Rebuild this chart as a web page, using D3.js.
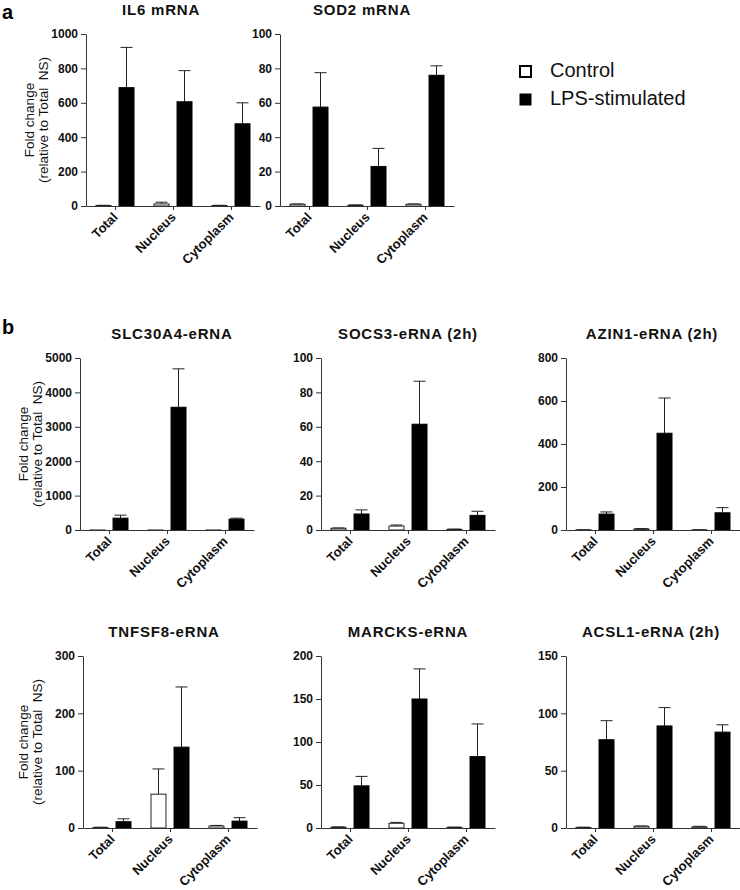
<!DOCTYPE html>
<html>
<head>
<meta charset="utf-8">
<script src="https://cdn.jsdelivr.net/npm/d3@7"></script>
<style>
  html, body { margin: 0; padding: 0; background: #fff; }
  svg { display: block; font-family: "Liberation Sans", Arial, sans-serif; }
</style>
</head>
<body>
<svg id="chart" width="740" height="890"></svg>
<script>
// ---- data ----
const categories = ["Total", "Nucleus", "Cytoplasm"];
const seriesNames = ["Control", "LPS-stimulated"];
const panelTitles = ["IL6 mRNA", "SOD2 mRNA", "SLC30A4-eRNA", "SOCS3-eRNA (2h)", "AZIN1-eRNA (2h)",
                     "TNFSF8-eRNA", "MARCKS-eRNA", "ACSL1-eRNA (2h)"];
const yMax = [1000, 100, 5000, 100, 800, 300, 200, 150];
const yStep = [200, 20, 1000, 20, 200, 100, 50, 50];
const controlMean = [
  [3, 12, 3], [1, 0.5, 1], [1, 1, 1], [1, 2.3, 0.4],
  [1, 5, 1], [1, 59, 3.5], [1, 5.5, 0.8], [0.5, 1.5, 1]
];
const controlErr = [
  [1, 10, 1], [0.2, 0.1, 0.2], [0, 0, 0], [0.2, 0.6, 0.1],
  [0.3, 2, 0.3], [0.3, 44, 1], [0.2, 1, 0.2], [0.2, 0.3, 0.5]
];
const lpsMean = [
  [688, 606, 478], [57.5, 23, 76], [344, 3568, 315], [9.3, 61.5, 8.5],
  [74, 450, 80], [11, 141, 12], [49, 150, 83], [77, 89, 83.6]
];
const lpsErr = [
  [234, 181, 122], [20, 10.5, 5.5], [88, 1117, 29], [2.4, 25, 2.4],
  [10, 164, 24], [5, 105, 6], [11, 35, 38], [16.6, 16, 6.4]
];
const yLabelLines = ["Fold change", "(relative to Total  NS)"];

// ---- layout ----
const layout = [
  { x0: 86,  top: 34,  titleX: 161, ylab: true },
  { x0: 280, top: 34,  titleX: 362, ylab: false },
  { x0: 80,  top: 358, titleX: 172, ylab: true },
  { x0: 321, top: 358, titleX: 408, ylab: false },
  { x0: 566, top: 358, titleX: 652, ylab: false },
  { x0: 83,  top: 656, titleX: 164, ylab: true },
  { x0: 321, top: 656, titleX: 408, ylab: false },
  { x0: 566, top: 656, titleX: 651, ylab: false }
];
const plotW = 174, plotH = 172;
const FONT = '"Liberation Sans", Arial, sans-serif';

const svg = d3.select("#chart");
const axisColor = "#333";

layout.forEach((L, i) => {
  const g = svg.append("g");
  const bottom = L.top + plotH;
  const x = d3.scalePoint().domain(categories).range([L.x0, L.x0 + plotW]).padding(0.5);
  const xs = d3.scaleBand().domain(seriesNames).range([-19, 19]).paddingInner(0.35);
  const y = d3.scaleLinear().domain([0, yMax[i]]).range([bottom, L.top]);

  const rows = [];
  categories.forEach((c, j) => {
    rows.push({ cat: c, s: seriesNames[0], v: controlMean[i][j], e: controlErr[i][j] });
    rows.push({ cat: c, s: seriesNames[1], v: lpsMean[i][j], e: lpsErr[i][j] });
  });

  // error bars (upward only)
  const eg = g.append("g");
  rows.forEach(d => {
    if (d.e <= 0) return;
    const cx = x(d.cat) + xs(d.s) + xs.bandwidth() / 2;
    eg.append("line").attr("x1", cx).attr("x2", cx)
      .attr("y1", y(d.v)).attr("y2", y(d.v + d.e))
      .attr("stroke", "#222").attr("stroke-width", 1);
    eg.append("line").attr("x1", cx - 6).attr("x2", cx + 6)
      .attr("y1", y(d.v + d.e)).attr("y2", y(d.v + d.e))
      .attr("stroke", "#222").attr("stroke-width", 1);
  });

  // bars
  g.append("g").selectAll("rect").data(rows).join("rect")
    .attr("x", d => x(d.cat) + xs(d.s))
    .attr("width", xs.bandwidth())
    .attr("y", d => y(d.v))
    .attr("height", d => Math.max(0.01, bottom - y(d.v)))
    .attr("fill", d => d.s === seriesNames[0] ? "#fff" : "#000")
    .attr("stroke", d => d.s === seriesNames[0] ? "#222" : "#000")
    .attr("stroke-width", 1);

  // y axis
  const ya = g.append("g").attr("transform", `translate(${L.x0},0)`)
    .call(d3.axisLeft(y).tickValues(d3.range(0, yMax[i] + 1e-9, yStep[i]))
      .tickFormat(d3.format("d")).tickSize(5).tickSizeOuter(0).tickPadding(3));
  ya.attr("font-family", FONT);
  ya.select(".domain").attr("stroke", axisColor);
  ya.selectAll(".tick line").attr("stroke", axisColor);
  ya.selectAll(".tick text").attr("fill", "#111")
    .style("font-size", "12px").style("font-weight", "bold");

  // x axis
  const xa = g.append("g").attr("transform", `translate(0,${bottom})`)
    .call(d3.axisBottom(x).tickSize(4).tickSizeOuter(0));
  xa.attr("font-family", FONT);
  xa.select(".domain").attr("stroke", axisColor);
  xa.selectAll(".tick line").attr("stroke", axisColor);
  xa.selectAll(".tick text")
    .attr("x", 0).attr("y", 0).attr("dy", 0)
    .attr("transform", "translate(3,12) rotate(-45)")
    .style("text-anchor", "end")
    .style("font-size", "13px").style("font-weight", "bold").attr("fill", "#111");

  // title
  g.append("text").attr("x", L.titleX).attr("y", L.top - 19)
    .attr("text-anchor", "middle")
    .style("font-size", "15px").style("font-weight", "bold")
    .style("letter-spacing", "0.8px").attr("fill", "#111")
    .text(panelTitles[i]);

  // y label
  if (L.ylab) {
    const cy = L.top + plotH / 2;
    const bx = i === 0 ? [34, 48] : [28, 42];
    yLabelLines.forEach((t, k) => {
      g.append("text")
        .attr("transform", `translate(${bx[k]},${cy}) rotate(-90)`)
        .attr("text-anchor", "middle")
        .style("font-size", "13.5px").style("white-space", "pre")
        .attr("fill", "#111")
        .text(t);
    });
  }
});

// panel letters
svg.append("text").attr("x", 2).attr("y", 19).style("font-size", "20px").style("font-weight", "bold").text("a");
svg.append("text").attr("x", 2).attr("y", 334).style("font-size", "20px").style("font-weight", "bold").text("b");

// legend
const legendY = [77, 105];
seriesNames.forEach((s, k) => {
  svg.append("rect").attr("x", 520).attr("y", legendY[k] - 11).attr("width", 11).attr("height", 11)
    .attr("fill", k === 0 ? "#fff" : "#000").attr("stroke", "#000").attr("stroke-width", k === 0 ? 2 : 1);
  svg.append("text").attr("x", 550).attr("y", legendY[k]).style("font-size", "20px").attr("fill", "#111").text(s);
});
</script>
</body>
</html>
